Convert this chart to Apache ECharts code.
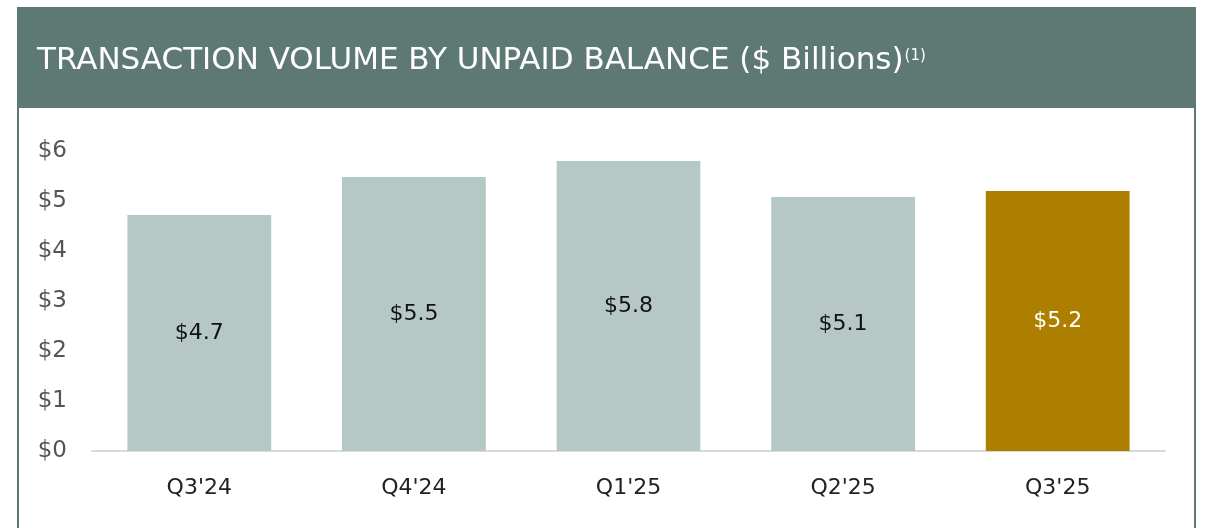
<!DOCTYPE html>
<html>
<head>
<meta charset="utf-8">
<script src="https://cdn.jsdelivr.net/npm/echarts@6/dist/echarts.min.js"></script>
<style>
html,body{margin:0;padding:0;background:#fff;}
#chart{width:1207px;height:528px;}
</style>
</head>
<body>
<div id="chart"></div>
<script>
var categories = ["Q3'24", "Q4'24", "Q1'25", "Q2'25", "Q3'25"];
var values = [4.72, 5.48, 5.8, 5.08, 5.2];
var valueLabels = ["$4.7", "$5.5", "$5.8", "$5.1", "$5.2"];
var yTicks = [0, 1, 2, 3, 4, 5, 6];

var headColor = '#5E7873';
var barColor = '#B5C8C5';
var lastColor = '#AD7F00';
var font = '"DejaVu Sans"';

var chart = echarts.init(document.getElementById('chart'), null, {renderer: 'canvas'});

var seriesData = values.map(function (v, i) {
  var last = i === values.length - 1;
  return {
    value: v,
    itemStyle: {color: last ? lastColor : barColor},
    label: {color: last ? '#ffffff' : '#111111'}
  };
});

chart.setOption({
  animation: false,
  graphic: [
    {type: 'rect', shape: {x: 17, y: 7, width: 1179, height: 101}, style: {fill: headColor}, z: 0},
    {type: 'rect', shape: {x: 17, y: 7, width: 2, height: 521}, style: {fill: headColor}, z: 0},
    {type: 'rect', shape: {x: 1194, y: 7, width: 2, height: 521}, style: {fill: headColor}, z: 0},
    {type: 'text', left: 37, top: 36, z: 10,
      style: {
        text: '{t|TRANSACTION VOLUME BY UNPAID BALANCE ($ Billions)}{s|(1)}',
        rich: {
          t: {fontFamily: font, fontSize: 31, fill: '#ffffff', color: '#ffffff', verticalAlign: 'bottom', lineHeight: 40},
          s: {fontFamily: font, fontSize: 15, fill: '#ffffff', color: '#ffffff', verticalAlign: 'top', padding: [13, 0, 0, 1], lineHeight: 17}
        }
      }
    }
  ],
  grid: {left: 92, right: 42, top: 151, bottom: 77, containLabel: false},
  xAxis: {
    type: 'category',
    data: categories,
    axisLine: {show: true, lineStyle: {color: '#DADADA', width: 2}},
    axisTick: {show: false},
    axisLabel: {color: '#222222', fontFamily: font, fontSize: 22, margin: 26}
  },
  yAxis: {
    type: 'value',
    min: yTicks[0],
    max: yTicks[yTicks.length - 1],
    interval: 1,
    splitLine: {show: false},
    axisLine: {show: false},
    axisTick: {show: false},
    axisLabel: {
      color: '#555555', fontFamily: font, fontSize: 23, margin: 25,
      padding: [3, 0, 0, 0],
      formatter: function (v) { return '$' + v; }
    }
  },
  series: [{
    type: 'bar',
    data: seriesData,
    barCategoryGap: '33%',
    label: {
      show: true,
      position: 'inside',
      fontFamily: font,
      fontSize: 22,
      padding: [4, 0, 0, 0],
      formatter: function (p) { return valueLabels[p.dataIndex]; }
    }
  }]
});
</script>
</body>
</html>
